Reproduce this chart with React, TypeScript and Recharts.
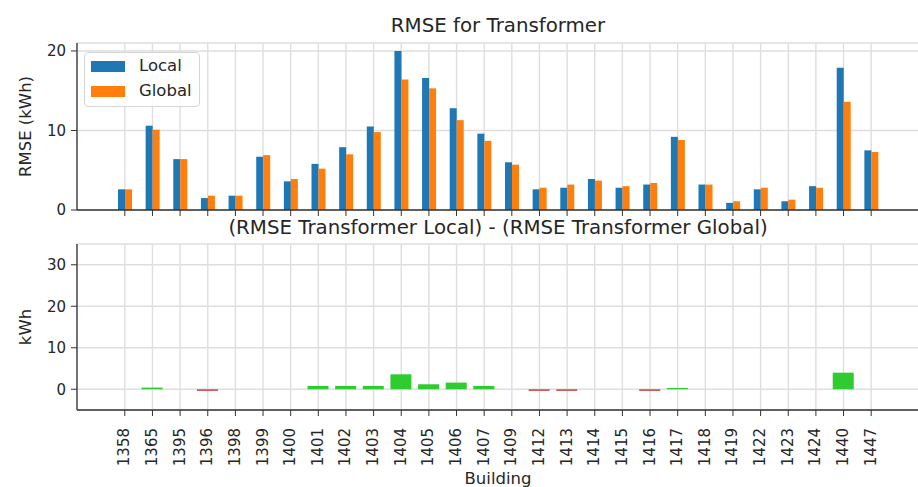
import { Bar, BarChart, CartesianGrid, Cell, Legend, XAxis, YAxis } from "recharts";

const buildings = [
	"1358", "1365", "1395", "1396", "1398", "1399", "1400", "1401", "1402", "1403",
	"1404", "1405", "1406", "1407", "1409", "1412", "1413", "1414", "1415", "1416",
	"1417", "1418", "1419", "1422", "1423", "1424", "1440", "1447",
];
const rmseLocal = [
	2.6, 10.6, 6.4, 1.5, 1.8, 6.7, 3.6, 5.8, 7.9, 10.5,
	20.0, 16.6, 12.8, 9.6, 6.0, 2.6, 2.8, 3.9, 2.8, 3.2,
	9.2, 3.2, 0.9, 2.6, 1.1, 3.0, 17.9, 7.5,
];
const rmseGlobal = [
	2.6, 10.1, 6.4, 1.8, 1.8, 6.9, 3.9, 5.2, 7.0, 9.8,
	16.4, 15.3, 11.3, 8.7, 5.7, 2.8, 3.2, 3.7, 3.0, 3.4,
	8.8, 3.2, 1.1, 2.8, 1.3, 2.8, 13.6, 7.3,
];
const rmseDiff = [
	0, 0.4, 0, -0.4, 0, 0, 0, 0.8, 0.8, 0.8,
	3.6, 1.2, 1.6, 0.8, 0, -0.4, -0.4, 0, 0, -0.4,
	0.3, 0, 0, 0, 0, 0, 4.0, 0,
];
const seriesNames = ["Local", "Global"];
const topTicks = [0, 10, 20];
const bottomTicks = [0, 10, 20, 30];

const FONT = "'DejaVu Sans', sans-serif";
const INK = "#262626";
const FRAME = "#333333";
const GRID = "#dedede";
const tickStyle = { fontSize: 15, fill: INK, fontFamily: FONT };

const rmseData = buildings.map((b, i) => ({
	building: b,
	local: rmseLocal[i],
	global: rmseGlobal[i],
}));
const diffData = buildings.map((b, i) => ({ building: b, diff: rmseDiff[i] }));

// rotated building labels under the lower panel
function BuildingTick(props: any) {
	const { x, y, payload } = props;
	return (
		<g transform={`translate(${x},${y})`}>
			<text
				transform="rotate(-90)"
				textAnchor="end"
				dy="0.3em"
				fontSize={15}
				fill={INK}
				fontFamily={FONT}
			>
				{payload.value}
			</text>
		</g>
	);
}

function yLabel(text: string) {
	return (props: any) => {
		const vb = props.viewBox;
		const cy = vb.y + vb.height / 2;
		return (
			<text
				x={31}
				y={cy}
				transform={`rotate(-90, 31, ${cy})`}
				textAnchor="middle"
				fontSize={16.5}
				fill={INK}
				fontFamily={FONT}
			>
				{text}
			</text>
		);
	};
}

function LegendBox(props: any) {
	const items = [...(props.payload || [])].sort(
		(a: any, b: any) => seriesNames.indexOf(a.value) - seriesNames.indexOf(b.value),
	);
	return (
		<div
			style={{
				width: 114,
				height: 53,
				border: "1px solid #d6d6d6",
				borderRadius: 4,
				background: "rgba(255,255,255,0.85)",
				position: "relative",
				fontFamily: FONT,
				fontSize: 16.5,
				color: INK,
			}}
		>
			{items.map((it: any, i: number) => (
				<div
					key={it.value}
					style={{ position: "absolute", left: 6, top: 7 + i * 25, display: "flex", alignItems: "center" }}
				>
					<span style={{ display: "inline-block", width: 34, height: 11, background: it.color }} />
					<span style={{ marginLeft: 14, lineHeight: "12px" }}>{it.value}</span>
				</div>
			))}
		</div>
	);
}

export default function App() {
	return (
		<div
			style={{
				position: "absolute",
				left: 0,
				top: 0,
				width: 918,
				height: 487,
				overflow: "hidden",
				background: "#fff",
			}}
		>
			<div style={{ position: "absolute", left: 0, top: 0 }}>
				<BarChart
					width={930}
					height={220}
					data={rmseData}
					margin={{ top: 43, right: 11, left: 0, bottom: 0 }}
					barGap={0}
					barSize={7}
				>
					<CartesianGrid stroke={GRID} strokeWidth={1.4} />
					<XAxis
						dataKey="building"
						height={10}
						padding={{ left: 34, right: 34 }}
						tickSize={6}
						tickFormatter={() => ""}
						tickLine={{ stroke: FRAME }}
						axisLine={{ stroke: FRAME, strokeWidth: 1.3 }}
						interval={0}
					/>
					<XAxis
						xAxisId="top"
						orientation="top"
						dataKey="building"
						height={0}
						tickLine={false}
						tickFormatter={() => ""}
						axisLine={{ stroke: FRAME, strokeWidth: 1.3 }}
					/>
					<YAxis
						width={77}
						domain={[0, 21]}
						ticks={topTicks}
						tick={tickStyle}
						tickSize={6}
						tickMargin={5}
						tickLine={{ stroke: FRAME }}
						axisLine={{ stroke: FRAME, strokeWidth: 1.3 }}
						label={{ content: yLabel("RMSE (kWh)") }}
					/>
					<Legend
						content={LegendBox}
						layout="horizontal"
						verticalAlign="middle"
						align="center"
						wrapperStyle={{ left: 84, top: 52, width: 116, height: 55 }}
					/>
					<Bar dataKey="local" name="Local" fill="#1f77b4" isAnimationActive={false} />
					<Bar dataKey="global" name="Global" fill="#ff7f0e" isAnimationActive={false} />
				</BarChart>
			</div>

			<div style={{ position: "absolute", left: 0, top: 0 }}>
				<BarChart
					width={930}
					height={487}
					data={diffData}
					margin={{ top: 244, right: 11, left: 0, bottom: 0 }}
					barSize={21}
				>
					<CartesianGrid stroke={GRID} strokeWidth={1.4} />
					<XAxis
						dataKey="building"
						height={77}
						padding={{ left: 34, right: 34 }}
						tickSize={6}
						tickMargin={12}
						tick={<BuildingTick />}
						tickLine={{ stroke: FRAME }}
						axisLine={{ stroke: FRAME, strokeWidth: 1.3 }}
						interval={0}
						label={{
							content: (p: any) => (
								<text
									x={p.viewBox.x + p.viewBox.width / 2}
									y={p.viewBox.y + 74}
									textAnchor="middle"
									fontSize={16.5}
									fill={INK}
									fontFamily={FONT}
								>
									Building
								</text>
							),
						}}
					/>
					<XAxis
						xAxisId="top"
						orientation="top"
						dataKey="building"
						height={0}
						tickLine={false}
						tickFormatter={() => ""}
						axisLine={{ stroke: FRAME, strokeWidth: 1.3 }}
					/>
					<YAxis
						width={77}
						domain={[-5, 35]}
						ticks={bottomTicks}
						tick={tickStyle}
						tickSize={6}
						tickMargin={5}
						tickLine={{ stroke: FRAME }}
						axisLine={{ stroke: FRAME, strokeWidth: 1.3 }}
						label={{ content: yLabel("kWh") }}
					/>
					<Bar dataKey="diff" isAnimationActive={false}>
						{diffData.map((d) => (
							<Cell key={d.building} fill={d.diff < 0 ? "#c8514f" : "#2ecc2e"} />
						))}
					</Bar>
				</BarChart>
			</div>

			<svg
				width={918}
				height={487}
				style={{ position: "absolute", left: 0, top: 0, pointerEvents: "none" }}
			>
				<text x={498} y={32} textAnchor="middle" fontSize={19.8} fill={INK} fontFamily={FONT}>
					RMSE for Transformer
				</text>
				<text x={498} y={234} textAnchor="middle" fontSize={19.8} fill={INK} fontFamily={FONT}>
					(RMSE Transformer Local) - (RMSE Transformer Global)
				</text>
			</svg>
		</div>
	);
}
